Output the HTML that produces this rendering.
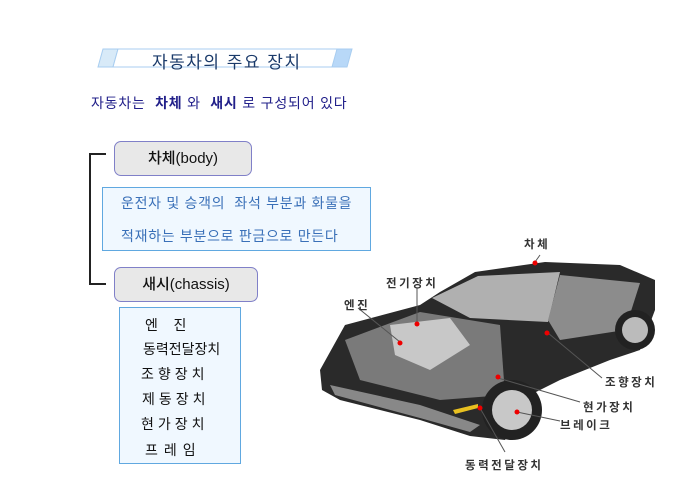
<!DOCTYPE html>
<html><head><meta charset="utf-8"><style>
body{margin:0;width:685px;height:497px;background:#fff;position:relative;overflow:hidden;font-family:"Liberation Sans","Noto Sans CJK KR","NanumGothic",sans-serif}
.a{position:absolute;white-space:nowrap}
.pill{position:absolute;background:#e8e8e8;border:1px solid #8080c8;border-radius:7px;font-size:15px;color:#111;text-align:center;font-weight:500}
.box{position:absolute;background:#f0f8ff;border:1px solid #60a8e0}
.lbl{font-size:11.5px;font-weight:bold;color:#333;letter-spacing:2.5px}
</style></head><body>
<svg class="a" style="left:0;top:0" width="685" height="497">
<polygon points="103,49 118,49 113,67 98,67" fill="#d8eaf8" stroke="#a8cdf0"/>
<polygon points="118,49 342,49 337,67 113,67" fill="#fff" stroke="#a8cdf0"/>
<polygon points="337,49 352,49 347,67 332,67" fill="#b8d8f8" stroke="#a8cdf0"/>
<path d="M106,154 H90 V284 H106" fill="none" stroke="#222" stroke-width="2"/>
<polygon points="320,370 345,325 420,305 440,292 475,272 545,262 620,265 655,280 655,310 640,350 610,360 560,380 530,395 505,440 470,436 420,420 340,400 322,390" fill="#2a2a2a"/>
<polygon points="432,298 478,276 560,272 548,322 470,318" fill="#b0b0b0"/>
<polygon points="560,275 640,283 625,330 560,340 548,320" fill="#8c8c8c"/>
<polygon points="345,340 420,312 500,325 505,395 440,400 360,380" fill="#7a7a7a"/>
<polygon points="390,325 450,318 470,345 430,370 395,355" fill="#c8c8c8"/>
<polygon points="330,385 420,405 480,425 470,432 420,418 335,395" fill="#888"/>
<circle cx="512" cy="410" r="30" fill="#222"/><circle cx="512" cy="410" r="20" fill="#c8c8c8"/>
<circle cx="635" cy="330" r="20" fill="#222"/><circle cx="635" cy="330" r="13" fill="#bbb"/>
<polygon points="453,410 478,404 478,408 455,414" fill="#e8c020"/>
<g stroke="#555" stroke-width="1" fill="none">
<line x1="358" y1="308" x2="400" y2="342"/><line x1="417" y1="288" x2="417" y2="323"/>
<line x1="540" y1="255" x2="535" y2="262"/><line x1="548" y1="333" x2="602" y2="378"/>
<line x1="498" y1="378" x2="580" y2="402"/><line x1="517" y1="412" x2="560" y2="421"/>
<line x1="480" y1="408" x2="505" y2="452"/>
</g>
<g fill="#e00"><circle cx="400" cy="343" r="2.5"/><circle cx="417" cy="324" r="2.5"/><circle cx="535" cy="263" r="2.5"/><circle cx="547" cy="333" r="2.5"/><circle cx="498" cy="377" r="2.5"/><circle cx="517" cy="412" r="2.5"/><circle cx="480" cy="408" r="2.5"/></g>
</svg>
<div class="a" style="left:152px;top:48px;font-size:17px;color:#1a3a6a;letter-spacing:1.5px">자동차의 주요 장치</div>
<div class="a" style="left:91px;top:93px;font-size:14px;color:#22208a;letter-spacing:0.8px">자동차는 &nbsp;<b>차체</b> 와 &nbsp;<b>새시</b> 로 구성되어 있다</div>
<div class="pill" style="left:114px;top:141px;width:136px;height:33px;line-height:33px">차체(body)</div>
<div class="box" style="left:102px;top:187px;width:267px;height:62px"></div>
<div class="a" style="left:121px;top:193px;font-size:14px;color:#3a70b8;letter-spacing:0.7px">운전자 및 승객의 &nbsp;좌석 부분과 화물을</div>
<div class="a" style="left:121px;top:226px;font-size:14px;color:#3a70b8;letter-spacing:0.7px">적재하는 부분으로 판금으로 만든다</div>
<div class="pill" style="left:114px;top:267px;width:142px;height:33px;line-height:33px">새시(chassis)</div>
<div class="box" style="left:119px;top:307px;width:120px;height:155px"></div>
<div class="a" style="left:145px;top:315px;font-size:14px;color:#111">엔 &nbsp; &nbsp;진</div>
<div class="a" style="left:143px;top:339px;font-size:14px;color:#111">동력전달장치</div>
<div class="a" style="left:141px;top:364px;font-size:14px;color:#111;letter-spacing:4px">조향장치</div>
<div class="a" style="left:142px;top:389px;font-size:14px;color:#111;letter-spacing:4px">제동장치</div>
<div class="a" style="left:141px;top:414px;font-size:14px;color:#111;letter-spacing:4px">현가장치</div>
<div class="a" style="left:145px;top:440px;font-size:14px;color:#111;letter-spacing:6px">프레임</div>
<div class="a lbl" style="left:524px;top:236px">차체</div>
<div class="a lbl" style="left:386px;top:275px">전기장치</div>
<div class="a lbl" style="left:344px;top:297px">엔진</div>
<div class="a lbl" style="left:605px;top:374px">조향장치</div>
<div class="a lbl" style="left:583px;top:399px">현가장치</div>
<div class="a lbl" style="left:560px;top:417px">브레이크</div>
<div class="a lbl" style="left:465px;top:457px">동력전달장치</div>
</body></html>
